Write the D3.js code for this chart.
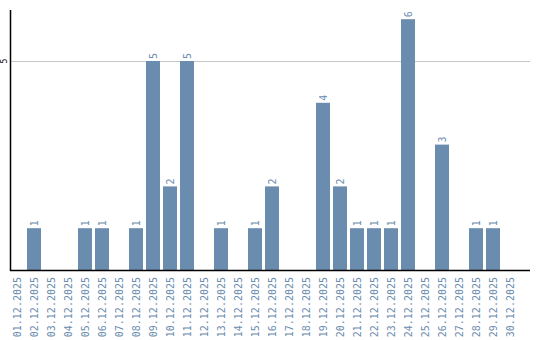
<!DOCTYPE html>
<html>
<head>
<meta charset="utf-8">
<script src="https://cdn.jsdelivr.net/npm/d3@7"></script>
<style>
  body { margin: 0; background: #fff; }
  svg { display: block; }
</style>
</head>
<body>
<svg width="540" height="340"></svg>
<script>
var dates = ["01.12.2025","02.12.2025","03.12.2025","04.12.2025","05.12.2025","06.12.2025",
  "07.12.2025","08.12.2025","09.12.2025","10.12.2025","11.12.2025","12.12.2025",
  "13.12.2025","14.12.2025","15.12.2025","16.12.2025","17.12.2025","18.12.2025",
  "19.12.2025","20.12.2025","21.12.2025","22.12.2025","23.12.2025","24.12.2025",
  "25.12.2025","26.12.2025","27.12.2025","28.12.2025","29.12.2025","30.12.2025"];
var counts = [0,1,0,0,1,1,0,1,5,2,5,0,1,0,1,2,0,0,4,2,1,1,1,6,0,3,0,1,1,0];
var yTicks = [5];
var yMax = 6.22;

var svg = d3.select("svg");
var barColor = "#6a8cae";

var plotLeft = 10, plotRight = 530, plotTop = 10, plotBottom = 270;

var x = d3.scaleBand()
    .domain(dates)
    .range([plotLeft, plotLeft + 507])
    .paddingInner(3 / 17)
    .paddingOuter(0);

var y = d3.scaleLinear()
    .domain([0, yMax])
    .range([plotBottom, plotTop]);

// grid
svg.append("g").selectAll("line")
  .data(yTicks)
  .enter().append("line")
    .attr("x1", plotLeft).attr("x2", plotRight)
    .attr("y1", d => Math.round(y(d)) + 0.5).attr("y2", d => Math.round(y(d)) + 0.5)
    .attr("stroke", "#c8c8c8");

svg.append("g").selectAll("text")
  .data(yTicks)
  .enter().append("text")
    .attr("transform", d => "translate(7," + y(d) + ") rotate(-90)")
    .attr("text-anchor", "middle")
    .style("font", "8px 'DejaVu Sans Mono'")
    .attr("fill", "#000")
    .text(d => d);

// bars
var data = dates.map((d, i) => ({date: d, value: counts[i]}));

svg.append("g").selectAll("rect")
  .data(data.filter(d => d.value > 0))
  .enter().append("rect")
    .attr("x", d => x(d.date))
    .attr("y", d => y(d.value))
    .attr("width", x.bandwidth())
    .attr("height", d => plotBottom - y(d.value))
    .attr("fill", barColor);

svg.append("g").selectAll("text")
  .data(data.filter(d => d.value > 0))
  .enter().append("text")
    .attr("transform", d => "translate(" + (x(d.date) + x.bandwidth() / 2 + 3.5) + "," + (y(d.value) - 2) + ") rotate(-90)")
    .attr("text-anchor", "start")
    .style("font", "10px 'DejaVu Sans Mono'")
    .attr("fill", barColor)
    .text(d => d.value);

// x labels
svg.append("g").selectAll("text")
  .data(dates)
  .enter().append("text")
    .attr("transform", d => "translate(" + (x(d) + x.bandwidth() / 2 + 3.5) + "," + (plotBottom + 7) + ") rotate(-90)")
    .attr("text-anchor", "end")
    .style("font", "10px 'DejaVu Sans Mono'")
    .attr("fill", barColor)
    .text(d => d);

// axes lines
svg.append("line")
    .attr("x1", plotLeft + 0.5).attr("x2", plotLeft + 0.5)
    .attr("y1", plotTop).attr("y2", plotBottom + 1)
    .attr("stroke", "#000").attr("stroke-width", 1.5);
svg.append("line")
    .attr("x1", plotLeft).attr("x2", plotRight)
    .attr("y1", plotBottom + 0.5).attr("y2", plotBottom + 0.5)
    .attr("stroke", "#000").attr("stroke-width", 1.5);
</script>
</body>
</html>
